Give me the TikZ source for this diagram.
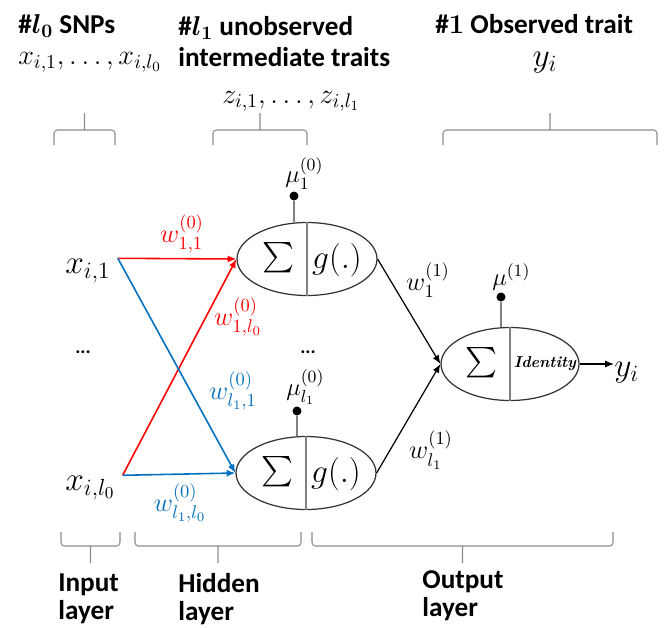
\RequirePackage{fix-cm}
\documentclass[tikz,border=0pt]{standalone}
\usepackage{amsmath}
\usepackage{bm}
\usepackage{fontspec}
\setsansfont{Carlito}
\usetikzlibrary{shapes.geometric,arrows.meta,positioning}

\definecolor{wred}{RGB}{255,0,0}
\definecolor{wblue}{RGB}{0,112,192}
\definecolor{brcgray}{RGB}{140,140,140}

\tikzset{
    ttl/.style={font=\sffamily\bfseries\fontsize{15.5}{17.5}\selectfont, align=left, inner sep=0pt},
    lyr/.style={ttl, font=\sffamily\bfseries\fontsize{15.5}{16}\selectfont},
    bigm/.style={font=\fontsize{19}{22}\selectfont, inner sep=0pt},
    midm/.style={font=\fontsize{16}{19}\selectfont, inner sep=0pt},
    wlbl/.style={font=\fontsize{15}{17}\selectfont, inner sep=0pt},
    mulbl/.style={font=\fontsize{14}{16}\selectfont, inner sep=0pt},
    neuron/.style={ellipse, draw=black!80, line width=0.7pt, minimum width=2.8cm,
        minimum height=1.46cm, inner sep=0pt},
    bias/.style={circle, fill=black, inner sep=0pt, minimum size=0.18cm},
    stem/.style={draw=black!50, line width=0.6pt},
    brc/.style={draw=brcgray, line width=0.6pt, rounded corners=2pt},
    wire/.style={line width=0.9pt, -{Latex[length=5pt,width=4pt]}},
    edots/.style={font=\sffamily\bfseries\fontsize{11}{12}\selectfont, inner sep=0pt},
}

\begin{document}
\begin{tikzpicture}[x=0.02cm, y=-0.02cm]
        \useasboundingbox (0,0) rectangle (665,627);
        \clip (0,0) rectangle (665,627);

        \node[ttl, anchor=base west] (hin) at (18,33) {\#$\bm{l_0}$ SNPs};
        \node[midm, anchor=base west] (xlist) at (18,64) {$x_{i,1},\ldots,x_{i,l_0}$};
        \node[ttl, anchor=north west] (hhid) at (178,16) {\#$\bm{l_1}$ unobserved\\intermediate traits};
        \node[midm, anchor=base west] (zlist) at (222,103) {$z_{i,1},\ldots,z_{i,l_1}$};
        \node[ttl, anchor=base west] (hout) at (435,33) {\#$\bm{1}$ Observed trait};
        \node[bigm, anchor=base] (ylist) at (545,66) {$y_i$};

        \foreach \a/\b in {54/115, 213/307, 443/657}
            \draw[brc] (\a,145) -- (\a,130) -- (\b,130) -- (\b,145) ({(\a+\b)/2},130) -- ({(\a+\b)/2},113);
        \foreach \a/\b in {61/120, 135/301, 312/613}
            \draw[brc] (\a,532) -- (\a,546) -- (\b,546) -- (\b,532) ({(\a+\b)/2},546) -- ({(\a+\b)/2},563);

        \node[bigm, anchor=base west, inner xsep=4pt] (xa) at (58,273) {$x_{i,1}$};
        \node[bigm, anchor=base west, inner xsep=4pt] (xb) at (58,490) {$x_{i,l_0}$};
        \node[edots] (xdots) at (83,352) {...};

        \node[neuron] (h1) at (307,259) {};
        \node[neuron] (h2) at (306,473) {};
        \node[neuron, minimum width=2.76cm] (o) at (510,364) {};
        \node[edots] (hdots) at (308,352) {...};

        \draw[stem] (h1.north) -- (h1.south);
        \draw[stem] (h2.north) -- (h2.south);
        \draw[stem] (o.north) -- (o.south);
        \node[midm] (s1) at (279,258) {$\sum$};
        \node[bigm] (g1) at (337,260) {$g(.)$};
        \node[midm] (s2) at (278,472) {$\sum$};
        \node[bigm] (g2) at (336,474) {$g(.)$};
        \node[midm] (s3) at (482,363) {$\sum$};
        \node[font=\bfseries\itshape\fontsize{9}{10}\selectfont, inner sep=0pt] (id) at (545,364) {Identity};

        \node[bias] (b1) at (294,196) {};
        \node[bias] (b2) at (297,411) {};
        \node[bias] (b3) at (501,297) {};
        \draw[stem] (b1) -- (b1 |- h1.north);
        \draw[stem] (b2) -- (b2 |- h2.north);
        \draw[stem] (b3) -- (b3 |- o.north);
        \node[mulbl, anchor=south west] (mu1) at (285,190) {$\mu_1^{(0)}$};
        \node[mulbl, anchor=south west] (mu2) at (286,405) {$\mu_{l_1}^{(0)}$};
        \node[mulbl, anchor=south west] (mu3) at (492,291) {$\mu^{(1)}$};

        \draw[wire, wred] (xa.north east) -- (h1.west);
        \draw[wire, wred] (xb.north east) -- (h1.west);
        \draw[wire, wblue] (xa.north east) -- (h2.west);
        \draw[wire, wblue] (xb.north east) -- (h2.west);
        \draw[wire, line width=0.7pt] (h1.east) -- (o.west);
        \draw[wire, line width=0.7pt] (h2.east) -- (o.west);
        \node[bigm, anchor=west] (yo) at (614,373) {$y_i$};
        \draw[wire, line width=0.7pt] (o.east) -- (o.east -| yo.west);

        \node[wlbl, text=wred] (w11) at (182,234) {$w_{1,1}^{(0)}$};
        \node[wlbl, text=wred] (w1l) at (238,317) {$w_{1,l_0}^{(0)}$};
        \node[wlbl, text=wblue] (wl1) at (233,391) {$w_{l_1,1}^{(0)}$};
        \node[wlbl, text=wblue] (wll) at (180,503) {$w_{l_1,l_0}^{(0)}$};
        \node[wlbl] (v1) at (428,280) {$w_1^{(1)}$};
        \node[wlbl] (vl) at (431,450) {$w_{l_1}^{(1)}$};

        \node[lyr, anchor=north west] (lin) at (58,573) {Input\\layer};
        \node[lyr, anchor=north west] (lhid) at (178,573) {Hidden\\layer};
        \node[lyr, anchor=north west] (lout) at (422,570) {Output\\layer};
\end{tikzpicture}
\end{document}
